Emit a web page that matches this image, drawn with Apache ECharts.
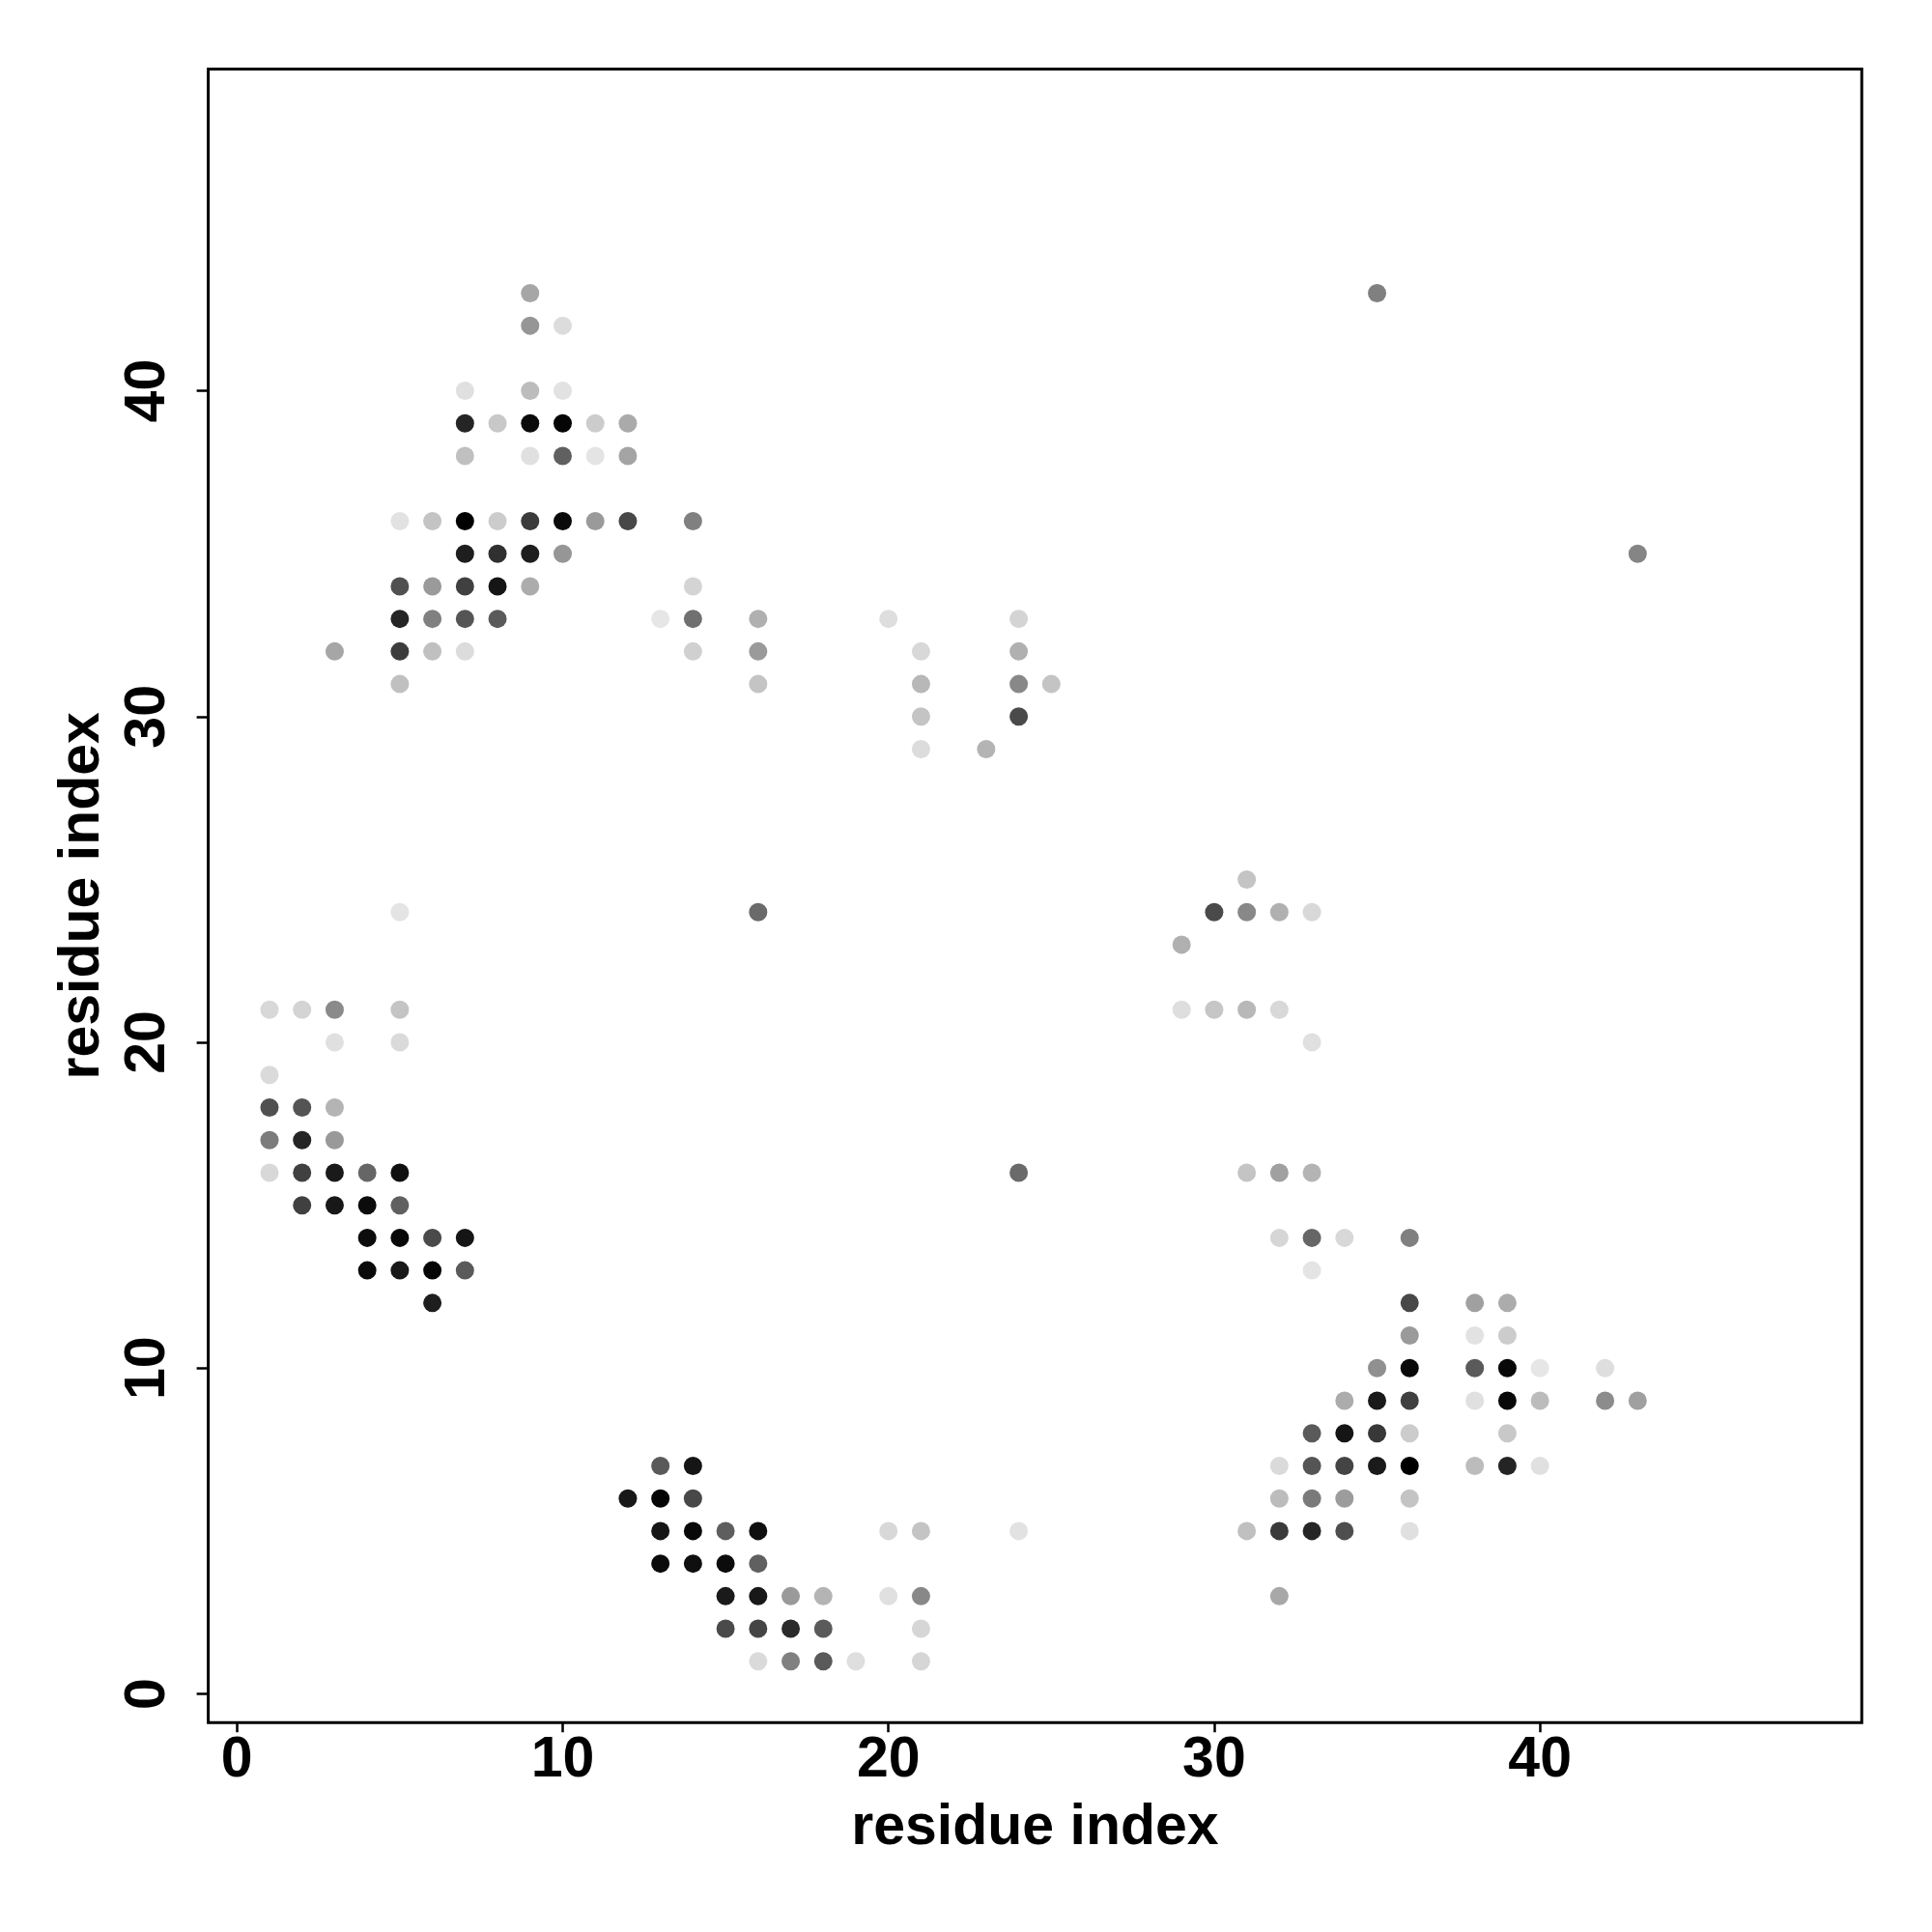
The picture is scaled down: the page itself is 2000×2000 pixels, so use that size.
<!DOCTYPE html>
<html>
<head>
<meta charset="utf-8">
<script src="https://cdn.jsdelivr.net/npm/echarts@6/dist/echarts.min.js"></script>
<style>html,body{margin:0;padding:0;background:#fff}#c{width:2000px;height:2000px}</style>
</head>
<body>
<div id="c"></div>
<script>
// Residue index (y) of each row of contacts
const rowY = [43, 42, 40, 39, 38, 36, 35, 34, 33, 32, 31, 30, 29, 25, 24, 23, 21, 20, 19, 18, 17, 16, 15, 14, 13, 12, 11, 10, 9, 8, 7, 6, 5, 4, 3, 2, 1];
// Residue index (x) of the contacts in each row
const rowX = [
  [9, 35], [9, 10], [7, 9, 10], [7, 8, 9, 10, 11, 12], [7, 9, 10, 11, 12],
  [5, 6, 7, 8, 9, 10, 11, 12, 14], [7, 8, 9, 10, 43], [5, 6, 7, 8, 9, 14],
  [5, 6, 7, 8, 13, 14, 16, 20, 24], [3, 5, 6, 7, 14, 16, 21, 24], [5, 16, 21, 24, 25],
  [21, 24], [21, 23], [31], [5, 16, 30, 31, 32, 33], [29],
  [1, 2, 3, 5, 29, 30, 31, 32], [3, 5, 33], [1], [1, 2, 3], [1, 2, 3],
  [1, 2, 3, 4, 5, 24, 31, 32, 33], [2, 3, 4, 5], [4, 5, 6, 7, 32, 33, 34, 36],
  [4, 5, 6, 7, 33], [6, 36, 38, 39], [36, 38, 39], [35, 36, 38, 39, 40, 42],
  [34, 35, 36, 38, 39, 40, 42, 43], [33, 34, 35, 36, 39],
  [13, 14, 32, 33, 34, 35, 36, 38, 39, 40], [12, 13, 14, 32, 33, 34, 36],
  [13, 14, 15, 16, 20, 21, 24, 31, 32, 33, 34, 36], [13, 14, 15, 16],
  [15, 16, 17, 18, 20, 21, 32], [15, 16, 17, 18, 21], [16, 17, 18, 19, 21]
];
// Gray level (0 = black, 255 = white) of each contact
const rowGray = [
  [0xa6, 0x80], [0x96, 0xdc], [0xe0, 0xbc, 0xe2], [0x25, 0xc8, 0x0a, 0x05, 0xcc, 0xaa], [0xc0, 0xe0, 0x60, 0xe4, 0xa4],
  [0xe2, 0xc4, 0x00, 0xcc, 0x3c, 0x0a, 0x9a, 0x48, 0x80], [0x1e, 0x30, 0x1e, 0x96, 0x85], [0x50, 0x9a, 0x40, 0x15, 0xac, 0xd4],
  [0x25, 0x80, 0x55, 0x5a, 0xe6, 0x70, 0xb0, 0xde, 0xd4], [0xa6, 0x3c, 0xc0, 0xdc, 0xd0, 0x9a, 0xd8, 0xb0], [0xc0, 0xc4, 0xb8, 0x88, 0xc4],
  [0xc4, 0x4a], [0xdc, 0xb4], [0xc4], [0xe4, 0x6a, 0x4a, 0x88, 0xb0, 0xd8], [0xb0],
  [0xd8, 0xd4, 0x8a, 0xc4, 0xde, 0xc6, 0xb8, 0xd8], [0xe0, 0xda, 0xe0], [0xda], [0x50, 0x54, 0xb4], [0x7c, 0x25, 0x99],
  [0xd8, 0x40, 0x1a, 0x66, 0x10, 0x6a, 0xc4, 0xa0, 0xb4], [0x40, 0x18, 0x0c, 0x60], [0x0c, 0x08, 0x4a, 0x15, 0xd6, 0x66, 0xd8, 0x80],
  [0x0a, 0x18, 0x05, 0x5a, 0xe4], [0x1e, 0x48, 0xa0, 0xac], [0x9a, 0xe2, 0xcc], [0x90, 0x0a, 0x5a, 0x08, 0xe6, 0xde],
  [0xac, 0x1a, 0x40, 0xe0, 0x08, 0xbc, 0x8c, 0xa0], [0x5a, 0x15, 0x38, 0xcc, 0xc8],
  [0x5a, 0x15, 0xda, 0x55, 0x44, 0x1a, 0x00, 0xbc, 0x24, 0xe0], [0x18, 0x05, 0x48, 0xbc, 0x7a, 0x9c, 0xc4],
  [0x15, 0x08, 0x5e, 0x0f, 0xd8, 0xc4, 0xe2, 0xc0, 0x3a, 0x25, 0x4e, 0xe0], [0x0a, 0x0f, 0x0c, 0x60],
  [0x1a, 0x18, 0x9a, 0xb4, 0xe0, 0x88, 0xa8], [0x4a, 0x45, 0x2a, 0x5a, 0xd6], [0xda, 0x80, 0x5a, 0xde, 0xd6]
];
const tickValues = [0, 10, 20, 30, 40];
const axisTitle = 'residue index';
const axisMin = -0.88, axisMax = 49.88;

const points = [];
rowY.forEach((y, i) => {
  rowX[i].forEach((x, j) => points.push([x, y, rowGray[i][j]]));
});

const FONT = '"Liberation Sans", Arial, Helvetica, sans-serif';
const labelStyle = { fontFamily: FONT, fontSize: 59, fontWeight: 'bold', color: '#000' };

const chart = echarts.init(document.getElementById('c'), null, { renderer: 'canvas' });
chart.setOption({
  animation: false,
  backgroundColor: '#fff',
  grid: {
    left: 215.6, right: 72.7, top: 71.4, bottom: 216.8,
    show: true, borderColor: '#000', borderWidth: 3, backgroundColor: 'transparent'
  },
  xAxis: {
    type: 'value', min: axisMin, max: axisMax,
    axisLine: { show: false, onZero: false },
    splitLine: { show: false },
    axisTick: { show: true, customValues: tickValues, length: 10, lineStyle: { color: '#000', width: 2.5 } },
    axisLabel: Object.assign({ customValues: tickValues, margin: 10 }, labelStyle),
    name: axisTitle, nameLocation: 'middle', nameGap: 80,
    nameTextStyle: labelStyle
  },
  yAxis: {
    type: 'value', min: axisMin, max: axisMax,
    axisLine: { show: false, onZero: false },
    splitLine: { show: false },
    axisTick: { show: true, customValues: tickValues, length: 12, lineStyle: { color: '#000', width: 2.5 } },
    axisLabel: Object.assign({ customValues: tickValues, margin: 32, rotate: 90 }, labelStyle),
    name: axisTitle, nameLocation: 'middle', nameGap: 100,
    nameTextStyle: labelStyle
  },
  series: [{
    type: 'scatter',
    symbol: 'circle',
    symbolSize: 19,
    data: points,
    itemStyle: {
      opacity: 1,
      color: p => { const g = p.data[2]; return 'rgb(' + g + ',' + g + ',' + g + ')'; }
    }
  }]
});
</script>
</body>
</html>
